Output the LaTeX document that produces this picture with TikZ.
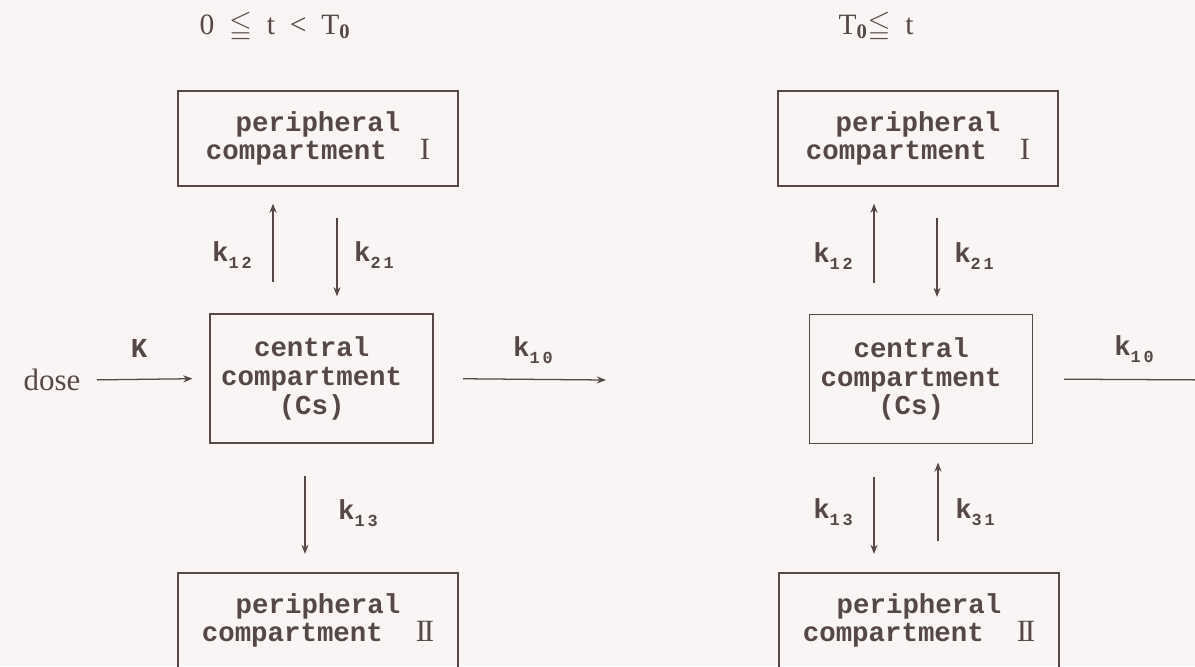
\documentclass[tikz,border=0pt]{standalone}
\usepackage{fontspec}
\usepackage{amssymb}
\setmainfont{Liberation Serif}
\setmonofont{Liberation Mono}
\usetikzlibrary{positioning,arrows.meta}
\definecolor{ink}{RGB}{86,72,72}
\definecolor{paper}{RGB}{248,245,244}
\newcommand{\kk}[2]{k\raisebox{-0.45ex}{\fontsize{12}{12}\selectfont #1\,#2}}
\newcommand{\romI}{{\rmfamily\mdseries\fontsize{22}{22}\selectfont I}}
\newcommand{\romII}{{\rmfamily\mdseries\fontsize{22}{22}\selectfont I\kern-1.6pt I}}
\newcommand{\lft}{\kern14pt}

\begin{document}
\begin{tikzpicture}[x=0.025cm, y=-0.025cm, color=ink, line width=0.9pt,
  font=\ttfamily\bfseries\fontsize{19.5}{18.4}\selectfont]
  \tikzstyle{comp}=[draw, line width=1.1pt, align=center, inner sep=0pt, minimum width=7cm, minimum height=2.375cm]
  \tikzstyle{cent}=[comp, minimum width=5.57cm, minimum height=3.225cm, font=\ttfamily\bfseries\fontsize{19.5}{20.5}\selectfont]
  \tikzstyle{arr}=[-{Stealth[length=6.5pt,width=5pt]}, shorten >=12pt, shorten <=22pt]
  \tikzstyle{ttl}=[font=\rmfamily\fontsize{21}{21}\selectfont]
  \clip (0,0) rectangle (1195,666);
  \fill[paper] (0,0) rectangle (1195,666);
  % before T0
  \node[ttl] (tL) at (275,27) {0\enspace$\leqq$\enspace t\enspace <\enspace T\textsubscript{\bfseries 0}};
  \node[cent] (cL) at (321.5,378.5) {central\lft\\compartment\lft\\(Cs)\lft};
  \node[comp] (p1L) at (318,138.5) {peripheral\\compartment\ \ \romI};
  \node[comp] (p2L) at (318,620.5) {peripheral\\compartment\ \ \romII};
  \node[font=\rmfamily\fontsize{22}{22}\selectfont] (dose) at (52,380) {dose};
  \coordinate (outL) at (606,380);
  \coordinate (a12L) at (273,0);
  \coordinate (a21L) at (337,0);
  \coordinate (a13L) at (305,0);
  \draw[-{Stealth[length=6.5pt,width=5pt]}, shorten <=8pt, shorten >=12pt] (dose.east) -- (cL.west);
  \draw[-{Stealth[length=6.5pt,width=5pt]}, shorten <=21pt] (cL.east) -- (outL);
  \draw[arr] (cL.north -| a12L) -- (p1L.south -| a12L);
  \draw[arr] (p1L.south -| a21L) -- (cL.north -| a21L);
  \draw[arr, shorten <=23pt, shorten >=13pt] (cL.south -| a13L) -- (p2L.north -| a13L);
  \node (KL) at (139,348) {K};
  \node (k10L) at (533,350) {\kk10};
  \node (k12L) at (232,255) {\kk12};
  \node (k21L) at (374,255) {\kk21};
  \node (k13L) at (358,513) {\kk13};
  % after T0
  \node[ttl] (tR) at (876,27) {T\textsubscript{\bfseries 0}$\leqq$\enspace t};
  \node[cent] (cR) at (921,379) {central\lft\\compartment\lft\\(Cs)\lft};
  \node[comp] (p1R) at (918,138.5) {peripheral\\compartment\ \ \romI};
  \node[comp] (p2R) at (919,620.5) {peripheral\\compartment\ \ \romII};
  \coordinate (outR) at (1220,380);
  \coordinate (a12R) at (874,0);
  \coordinate (a21R) at (937,0);
  \coordinate (a13R) at (874,0);
  \coordinate (a31R) at (938,0);
  \draw[-{Stealth[length=6.5pt,width=5pt]}, shorten <=22pt] (cR.east) -- (outR);
  \draw[arr] (cR.north -| a12R) -- (p1R.south -| a12R);
  \draw[arr] (p1R.south -| a21R) -- (cR.north -| a21R);
  \draw[arr, shorten <=23pt, shorten >=13pt] (cR.south -| a13R) -- (p2R.north -| a13R);
  \draw[arr, shorten <=22pt, shorten >=13pt] (p2R.north -| a31R) -- (cR.south -| a31R);
  \node (k10R) at (1134,349) {\kk10};
  \node (k12R) at (833,256) {\kk12};
  \node (k21R) at (974,256) {\kk21};
  \node (k13R) at (833,512) {\kk13};
  \node (k31R) at (975,512) {\kk31};
\end{tikzpicture}
\end{document}
